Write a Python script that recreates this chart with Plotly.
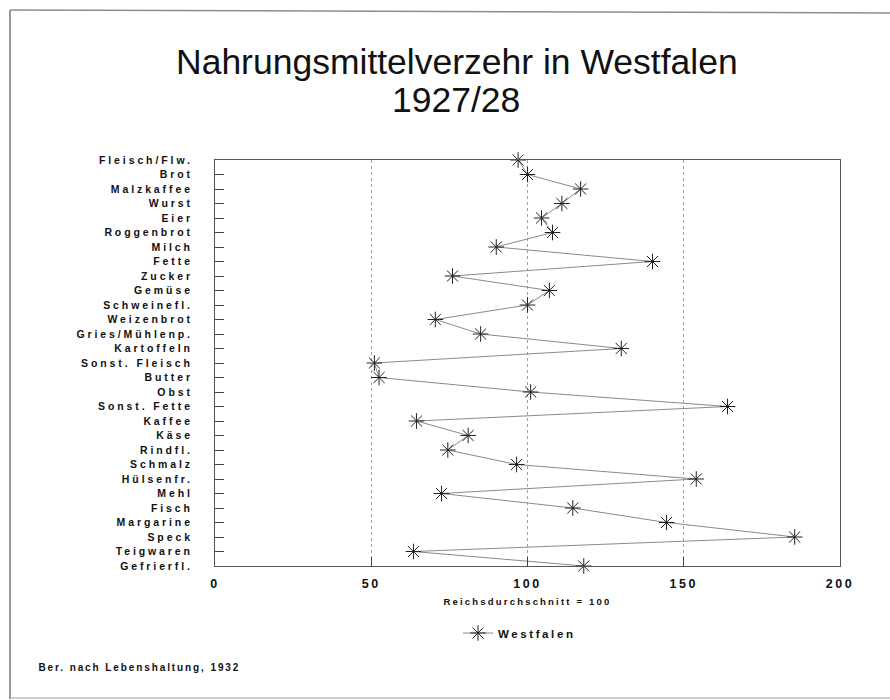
import plotly.graph_objects as go

categories = ["Fleisch/Flw.", "Brot", "Malzkaffee", "Wurst", "Eier", "Roggenbrot", "Milch",
              "Fette", "Zucker", "Gemüse", "Schweinefl.", "Weizenbrot", "Gries/Mühlenp.",
              "Kartoffeln", "Sonst. Fleisch", "Butter", "Obst", "Sonst. Fette", "Kaffee",
              "Käse", "Rindfl.", "Schmalz", "Hülsenfr.", "Mehl", "Fisch", "Margarine",
              "Speck", "Teigwaren", "Gefrierfl."]
westfalen = [97, 100, 117, 111, 104.5, 108, 90, 140, 76, 107, 100, 70.5, 85, 130, 51, 52.5,
             101, 164, 64.5, 81, 74.5, 96.5, 154, 72.5, 114.5, 144.5, 185.5, 63.5, 118]
x_ticks = [0, 50, 100, 150, 200]

FONT = "Liberation Sans, Arial, sans-serif"

fig = go.Figure()
fig.add_trace(go.Scatter(
    x=westfalen, y=categories, mode="lines+markers", name="Westfalen",
    line=dict(color="#8a8a8a", width=1),
    marker=dict(symbol="asterisk-open", size=13, color="#222",
                line=dict(color="#222", width=1)),
    cliponaxis=False,
))

W, H = 890, 700
L, R, T, B = 215, 50, 160, 134
pw, ph = W - L - R, H - T - B

def px(x):
    return (x - L) / pw

def py(y):
    return (H - B - y) / ph

fig.update_layout(
    width=W, height=H,
    margin=dict(l=L, r=R, t=T, b=B, autoexpand=False),
    paper_bgcolor="white", plot_bgcolor="white",
    font=dict(family=FONT, color="#111"),
    showlegend=True,
    legend=dict(orientation="h", x=px(458), xanchor="left", y=py(633), yanchor="middle",
                entrywidth=130, entrywidthmode="pixels",
                font=dict(size=11.5, family=FONT, weight="bold", color="#111"),
                bgcolor="rgba(0,0,0,0)"),
    xaxis=dict(range=[0, 200], tickvals=x_ticks, ticktext=[str(v) for v in x_ticks],
               ticks="inside", ticklen=9, tickcolor="#444", tickwidth=1,
               showline=True, mirror=True, linecolor="#555", linewidth=1,
               showgrid=True, gridcolor="#a0a0a0", griddash="dot", gridwidth=1,
               zeroline=False, automargin=False, ticklabelstandoff=6,
               tickfont=dict(size=12.5, family=FONT, weight="bold", color="#111"),
               title=dict(text="Reichsdurchschnitt = 100", standoff=8,
                          font=dict(size=9.5, family=FONT, weight="bold", color="#111"))),
    yaxis=dict(type="category", categoryorder="array", categoryarray=categories,
               range=[len(categories) - 1, 0],
               ticks="inside", ticklen=9, tickcolor="#444", tickwidth=1,
               showline=True, mirror=True, linecolor="#555", linewidth=1,
               showgrid=False, zeroline=False, automargin=False, ticklabelstandoff=19,
               tickfont=dict(size=10.5, family=FONT, weight="bold", color="#111")),
    annotations=[
        dict(text="Nahrungsmittelverzehr in Westfalen", xref="paper", yref="paper",
             x=px(457), y=py(62), xanchor="center", yanchor="middle", showarrow=False,
             font=dict(size=35.5, family=FONT, color="#111")),
        dict(text="1927/28", xref="paper", yref="paper",
             x=px(456), y=py(100), xanchor="center", yanchor="middle", showarrow=False,
             font=dict(size=35.5, family=FONT, color="#111")),
        dict(text="Ber. nach Lebenshaltung, 1932", xref="paper", yref="paper",
             x=px(64), y=py(667), xanchor="left", yanchor="middle", showarrow=False,
             font=dict(size=10, family=FONT, weight="bold", color="#111")),
    ],
    shapes=[
        dict(type="line", xref="paper", yref="paper", x0=px(10), x1=px(890), y0=py(10), y1=py(13),
             line=dict(color="#8c8c8c", width=1.5)),
        dict(type="line", xref="paper", yref="paper", x0=px(10), x1=px(10), y0=py(10), y1=py(699),
             line=dict(color="#777", width=1.5)),
        dict(type="line", xref="paper", yref="paper", x0=px(10), x1=px(890), y0=py(698), y1=py(698),
             line=dict(color="#999", width=1.2)),
    ],
)

post = """
document.body.style.margin = '0';
var gd = document.getElementById('{plot_id}');
function ls(){
  gd.querySelectorAll('.ytick text').forEach(function(t){t.style.letterSpacing='2.9px';});
  gd.querySelectorAll('.xtick text').forEach(function(t){t.style.letterSpacing='2.5px';});
  gd.querySelectorAll('.g-xtitle text').forEach(function(t){t.style.letterSpacing='2.2px';});
  gd.querySelectorAll('.legendtext').forEach(function(t){t.style.letterSpacing='2.6px';});
  var ann = gd.querySelectorAll('.annotation-text');
  if (ann.length > 2) { ann[2].style.letterSpacing='1.9px'; }
}
ls();
gd.on('plotly_afterplot', ls);
"""

fig.write_html("out.html", post_script=post, config={"displayModeBar": False})
